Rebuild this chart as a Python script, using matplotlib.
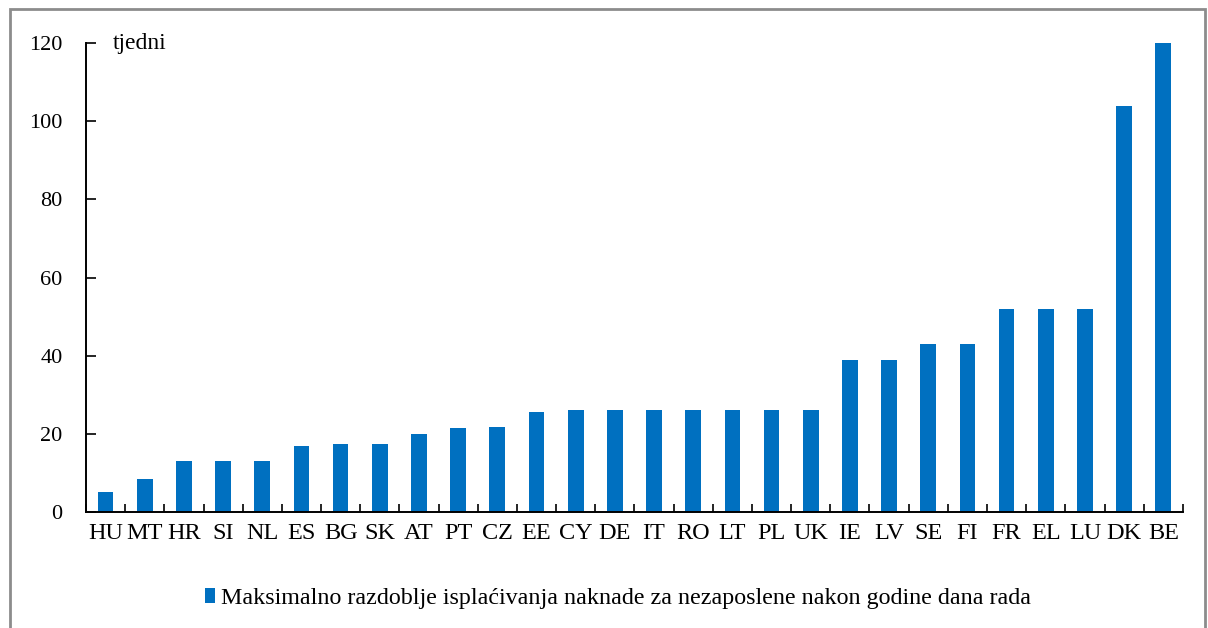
import matplotlib.pyplot as plt
from matplotlib.patches import Rectangle
import numpy as np

plt.rcParams['font.family'] = ['Liberation Serif', 'DejaVu Serif']

countries = ["HU", "MT", "HR", "SI", "NL", "ES", "BG", "SK", "AT", "PT", "CZ", "EE", "CY", "DE",
             "IT", "RO", "LT", "PL", "UK", "IE", "LV", "SE", "FI", "FR", "EL", "LU", "DK", "BE"]
weeks = [5, 8.5, 13, 13, 13, 17, 17.3, 17.3, 20, 21.4, 21.7, 25.7, 26, 26,
         26, 26, 26, 26, 26, 39, 39, 43, 43, 52, 52, 52, 104, 120]
series_label = "Maksimalno razdoblje isplaćivanja naknade za nezaposlene nakon godine dana rada"

fig = plt.figure(figsize=(12.08, 6.28), dpi=100)
ax = fig.add_axes([0.0712, 0.1847, 0.9080, 0.7468])

x = np.arange(len(countries))
ax.bar(x, weeks, width=0.4, color='#0070C0', label=series_label, zorder=2)

ax.set_xlim(-0.5, len(countries) - 0.5)
ax.set_ylim(0, 120)
ax.set_yticks(np.arange(0, 121, 20))
ax.set_xticks(x)
ax.set_xticklabels(countries)
ax.set_xticks(np.arange(-0.5, len(countries), 1), minor=True)
ax.tick_params(axis='x', which='major', length=0, labelsize=17.5, pad=8)
ax.tick_params(axis='x', which='minor', direction='in', length=6, width=1.2)
ax.tick_params(axis='y', direction='in', length=7, width=1.2, labelsize=16, pad=17)

for side in ['top', 'right']:
    ax.spines[side].set_visible(False)
for side in ['left', 'bottom']:
    ax.spines[side].set_linewidth(1.4)

ax.text(0.18, 120, "tjedni", fontsize=17, va='center', ha='left')

ax.legend(loc='upper center', bbox_to_anchor=(0.485, -0.115), frameon=False, fontsize=17.3,
          handlelength=0.42, handleheight=0.6, handletextpad=0.25)

fig.patches.append(Rectangle((0.0083, -0.01), 0.989, 0.996, transform=fig.transFigure,
                             fill=False, edgecolor='#8c8c8c', linewidth=2))

fig.savefig("out.png", dpi=100)
